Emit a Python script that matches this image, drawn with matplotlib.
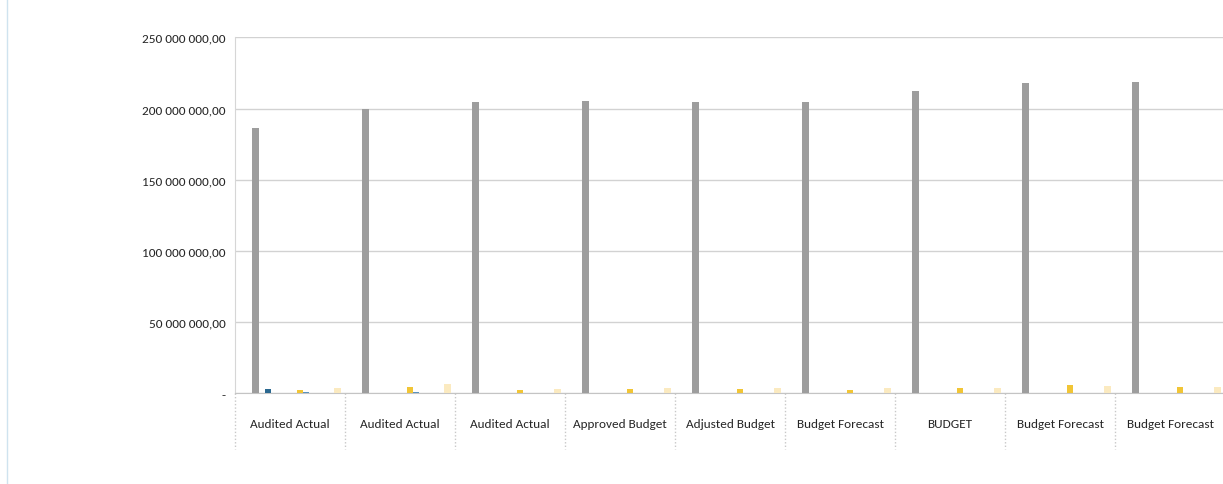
import matplotlib
matplotlib.use("Agg")
from matplotlib import pyplot as plt
from matplotlib.ticker import FuncFormatter
import numpy as np

categories = ["Audited Actual", "Audited Actual", "Audited Actual", "Approved Budget",
              "Adjusted Budget", "Budget Forecast", "BUDGET", "Budget Forecast", "Budget Forecast"]

# values in millions
total = [186.0, 200.0, 204.3, 205.0, 204.7, 204.5, 212.0, 217.8, 218.7]
dark_blue = [3.0, 0, 0, 0, 0, 0, 0, 0, 0]
yellow = [2.5, 4.6, 2.5, 3.0, 3.0, 2.5, 3.5, 5.8, 4.2]
mid_blue = [1.1, 0.6, 0, 0, 0, 0, 0, 0, 0]
dark_small = [0, 0.4, 0, 0, 0, 0, 0, 0, 0]
light_yellow = [3.7, 6.5, 3.0, 3.5, 3.5, 3.7, 3.5, 5.3, 4.2]

# (slot in the 14-bar cluster, values, colour)
series = [
    (0, total, "#9d9d9d"),
    (2, dark_blue, "#2b6890"),
    (7, yellow, "#f1c536"),
    (8, mid_blue, "#5a92bd"),
    (9, dark_small, "#4a6272"),
    (13, light_yellow, "#fbeac0"),
]

plt.rcParams['font.family'] = ['Carlito', 'Liberation Sans Narrow', 'Archivo Narrow',
                               'Roboto Condensed', 'DejaVu Sans']

fig = plt.figure(figsize=(12.23, 4.85), dpi=100)
ax = fig.add_axes([0.1922, 0.187, 0.8095, 0.734])

x = np.arange(len(categories))
w = 0.0573
left_pad = 0.158
for slot, vals, col in series:
    pos = x - 0.5 + left_pad + (slot + 0.5) * w
    ax.bar(pos, np.array(vals) * 1e6, width=w, color=col, zorder=3)

ax.set_xlim(-0.5, len(categories) - 0.5)
ax.set_ylim(0, 250e6)
ax.set_yticks(np.arange(0, 250e6 + 1, 50e6))


def fmt(v, _):
    if v == 0:
        return "-"
    return f"{v:,.2f}".replace(",", " ").replace(".", ",")


ax.yaxis.set_major_formatter(FuncFormatter(fmt))
ax.grid(axis="y", color="#d2d2d2", linewidth=1, zorder=0)

ax.set_xticks(x)
ax.set_xticklabels(categories)
ax.tick_params(axis="x", length=0, pad=18, labelsize=9.5, labelcolor="#262626")
ax.tick_params(axis="y", length=0, pad=7, labelsize=9.5, labelcolor="#262626")

for s in ["top", "right"]:
    ax.spines[s].set_visible(False)
ax.spines["left"].set_color("#d6d6d6")
ax.spines["bottom"].set_color("#c4c4c4")

# dotted separators of the category label box
trans = ax.get_xaxis_transform()
for b in np.arange(-0.5, len(categories), 1.0):
    ax.plot([b, b], [0, -0.157], transform=trans, color="#c8c8c8",
            linestyle=(0, (1, 1.5)), linewidth=1, clip_on=False)

# scan edge on the far left
fig.add_artist(plt.Line2D([0.006, 0.006], [0, 1], color="#cfe3ef", linewidth=1))

plt.savefig("out.png", dpi=100)
